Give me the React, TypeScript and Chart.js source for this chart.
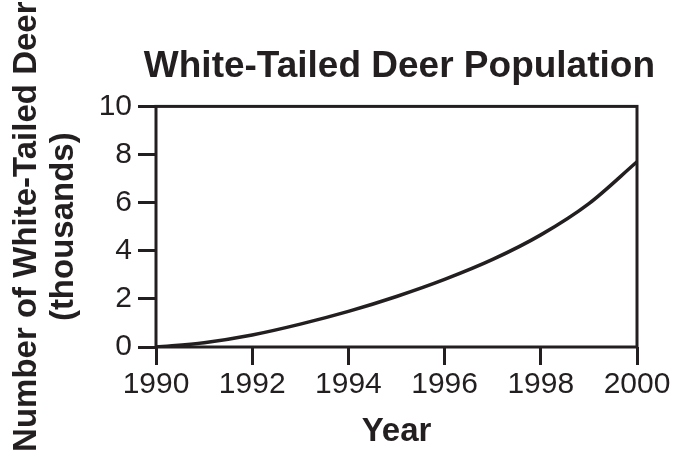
import React, { useEffect, useRef } from "react";
import { Chart, registerables } from "chart.js";

Chart.register(...registerables);

const years: number[] = [1990, 1991, 1992, 1993, 1994, 1995, 1996, 1997, 1998, 1999, 2000];
const deerThousands: number[] = [0, 0.18, 0.5, 0.95, 1.48, 2.1, 2.81, 3.64, 4.66, 5.96, 7.7];
const chartTitle = "White-Tailed Deer Population";
const yTitle: string[] = ["Number of White-Tailed Deer", "(thousands)"];
const xTitle = "Year";

const INK = "#231f20";
const FONT = "'Liberation Sans', Arial, Helvetica, sans-serif";

const framePlugin = {
  id: "frame",
  afterDatasetsDraw(chart: any) {
    const { ctx, chartArea } = chart;
    ctx.save();
    ctx.strokeStyle = INK;
    ctx.lineWidth = 3;
    ctx.strokeRect(chartArea.left, chartArea.top, chartArea.right - chartArea.left, chartArea.bottom - chartArea.top);
    ctx.restore();
  },
};

export default function App() {
  const ref = useRef<HTMLCanvasElement | null>(null);
  useEffect(() => {
    if (!ref.current) return;
    const chart = new Chart(ref.current, {
      type: "line",
      data: {
        datasets: [
          {
            data: years.map((y, i) => ({ x: y, y: deerThousands[i] })),
            borderColor: INK,
            borderWidth: 3.5,
            pointRadius: 0,
            cubicInterpolationMode: "monotone",
            fill: false,
          },
        ],
      },
      options: {
        animation: false,
        responsive: true,
        maintainAspectRatio: false,
        layout: { padding: { left: 0, right: 21, top: 0, bottom: 0 } },
        plugins: {
          legend: { display: false },
          tooltip: { enabled: false },
          title: {
            display: true,
            text: chartTitle,
            align: "end",
            color: INK,
            font: { family: FONT, size: 37, weight: "bold", lineHeight: 1.2 },
            padding: { top: 45, bottom: 17 },
          },
        },
        scales: {
          x: {
            type: "linear",
            min: 1990,
            max: 2000,
            afterFit: (s: any) => {
              s.height = 105;
              s.paddingRight = 39;
            },
            ticks: {
              stepSize: 2,
              color: INK,
              padding: 2,
              maxRotation: 0,
              font: { family: FONT, size: 30 },
              callback: (v: any) => String(v),
            },
            grid: { drawOnChartArea: false, drawTicks: true, tickLength: 18, lineWidth: 3, color: INK },
            border: { display: false },
            title: {
              display: true,
              text: xTitle,
              color: INK,
              font: { family: FONT, size: 33, weight: "bold", lineHeight: 1.2 },
              padding: { top: 0, bottom: 0 },
            },
          },
          y: {
            min: 0,
            max: 10,
            afterFit: (s: any) => {
              s.width = 156;
            },
            ticks: {
              stepSize: 2,
              color: INK,
              padding: 6,
              font: { family: FONT, size: 30 },
            },
            grid: { drawOnChartArea: false, drawTicks: true, tickLength: 18, lineWidth: 3, color: INK },
            border: { display: false },
            title: {
              display: true,
              text: yTitle,
              color: INK,
              font: { family: FONT, size: 33, weight: "bold", lineHeight: 1.1 },
              padding: { top: 9, bottom: 0 },
            },
          },
        },
      },
      plugins: [framePlugin],
    } as any);
    return () => chart.destroy();
  }, []);
  return (
    <div style={{ position: "fixed", left: 0, top: 0, width: 676, height: 452, background: "#fff" }}>
      <canvas ref={ref} />
    </div>
  );
}
